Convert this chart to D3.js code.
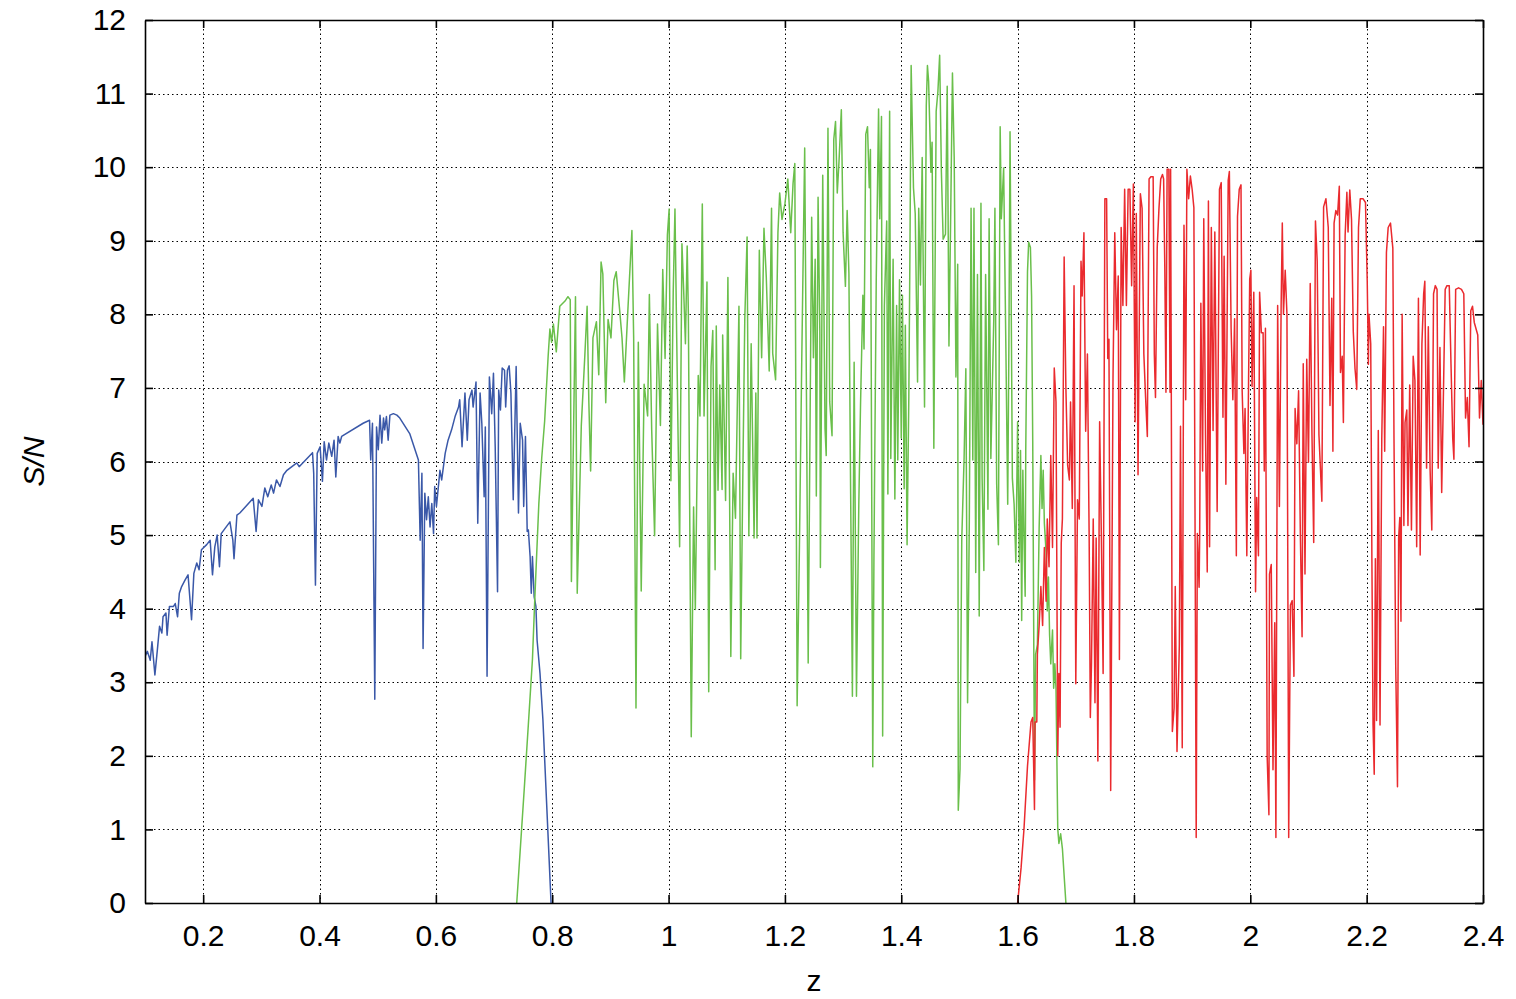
<!DOCTYPE html>
<html>
<head>
<meta charset="utf-8">
<script src="https://cdn.jsdelivr.net/npm/d3@7"></script>
<style>
  html, body { margin: 0; padding: 0; background: #fff; }
  svg { display: block; }
  text { font-family: "Liberation Sans", Arial, Helvetica, sans-serif; fill: #000; }
</style>
</head>
<body>
<svg id="chart" width="1516" height="999"></svg>
<script>
// ---------------- data ----------------
const xTickValues = [0.2, 0.4, 0.6, 0.8, 1.0, 1.2, 1.4, 1.6, 1.8, 2.0, 2.2, 2.4];
const xTickLabels = ["0.2", "0.4", "0.6", "0.8", "1", "1.2", "1.4", "1.6", "1.8", "2", "2.2", "2.4"];
const yTickValues = [0, 1, 2, 3, 4, 5, 6, 7, 8, 9, 10, 11, 12];
const yTickLabels = ["0", "1", "2", "3", "4", "5", "6", "7", "8", "9", "10", "11", "12"];
const xLabel = "z";
const yLabel = "S/N";

// blue series (low z)
const blueZ = [0.100,0.104,0.109,0.112,0.117,0.121,0.125,0.129,0.131,0.136,0.138,0.142,0.149,0.152,0.156,0.159,0.163,0.169,0.174,0.180,0.184,0.189,0.193,0.197,0.206,0.212,0.216,0.220,0.224,0.228,0.231,0.246,0.251,0.253,0.258,0.263,0.286,0.291,0.295,0.301,0.306,0.311,0.317,0.321,0.326,0.332,0.338,0.344,0.361,0.365,0.388,0.390,0.393,0.396,0.401,0.405,0.408,0.412,0.416,0.421,0.425,0.428,0.432,0.435,0.438,0.475,0.486,0.488,0.491,0.495,0.498,0.501,0.504,0.507,0.510,0.512,0.515,0.518,0.521,0.527,0.533,0.538,0.555,0.570,0.573,0.576,0.578,0.581,0.584,0.587,0.590,0.593,0.596,0.598,0.601,0.607,0.610,0.616,0.621,0.627,0.633,0.639,0.641,0.645,0.650,0.654,0.657,0.662,0.664,0.669,0.672,0.676,0.679,0.683,0.685,0.688,0.692,0.696,0.699,0.702,0.706,0.708,0.711,0.714,0.718,0.720,0.723,0.726,0.729,0.733,0.738,0.742,0.745,0.749,0.751,0.754,0.757,0.759,0.762,0.764,0.766,0.769,0.772,0.774,0.779,0.784,0.798];
const blueSN = [3.35,3.42,3.30,3.55,3.10,3.42,3.76,3.67,3.89,3.94,3.64,4.03,4.03,4.07,3.89,4.21,4.30,4.39,4.46,3.85,4.48,4.62,4.53,4.80,4.87,4.93,4.46,4.84,5.00,4.57,5.02,5.18,4.93,4.68,5.27,5.30,5.50,5.05,5.48,5.39,5.64,5.52,5.68,5.57,5.75,5.66,5.82,5.88,5.98,5.93,6.12,5.84,4.32,6.11,6.20,5.73,6.27,6.02,6.25,6.07,6.29,5.79,6.34,6.25,6.34,6.52,6.56,6.02,6.52,2.77,6.47,6.16,6.63,6.25,6.59,6.43,6.61,6.29,6.63,6.65,6.63,6.59,6.38,6.02,4.93,5.84,3.46,5.57,5.21,5.52,5.11,5.43,5.02,5.66,5.39,5.88,5.75,6.11,6.29,6.43,6.61,6.74,6.84,6.20,6.93,6.29,6.84,6.97,6.74,7.08,5.16,6.93,6.52,5.52,6.47,3.08,7.15,6.65,7.20,6.20,4.23,6.97,6.70,7.27,7.24,6.74,7.24,7.30,6.93,5.48,7.29,5.30,6.52,6.29,5.39,6.34,5.05,5.07,4.71,4.21,4.71,4.16,4.03,3.57,3.12,2.49,0.00];

// green series (mid z)
const greenZ = [0.739,0.752,0.759,0.766,0.770,0.777,0.782,0.787,0.793,0.796,0.799,0.802,0.807,0.813,0.822,0.827,0.831,0.833,0.840,0.843,0.850,0.856,0.860,0.863,0.866,0.870,0.876,0.880,0.884,0.887,0.892,0.896,0.901,0.906,0.910,0.916,0.920,0.924,0.930,0.937,0.940,0.944,0.948,0.953,0.958,0.964,0.967,0.971,0.976,0.981,0.986,0.990,0.994,0.998,1.001,1.004,1.008,1.011,1.014,1.019,1.023,1.026,1.029,1.032,1.034,1.039,1.043,1.046,1.051,1.054,1.058,1.061,1.066,1.069,1.073,1.076,1.080,1.082,1.085,1.088,1.092,1.093,1.098,1.102,1.107,1.111,1.115,1.121,1.124,1.128,1.131,1.135,1.138,1.142,1.147,1.150,1.152,1.156,1.160,1.164,1.168,1.173,1.177,1.179,1.184,1.188,1.191,1.195,1.200,1.205,1.210,1.214,1.217,1.221,1.225,1.229,1.234,1.237,1.240,1.246,1.249,1.252,1.254,1.257,1.260,1.261,1.265,1.269,1.271,1.274,1.277,1.281,1.284,1.287,1.290,1.293,1.297,1.300,1.304,1.307,1.310,1.313,1.316,1.319,1.323,1.327,1.330,1.334,1.336,1.339,1.342,1.345,1.347,1.351,1.353,1.357,1.361,1.363,1.366,1.368,1.371,1.375,1.377,1.380,1.382,1.386,1.389,1.392,1.394,1.397,1.400,1.402,1.405,1.407,1.410,1.413,1.415,1.417,1.421,1.424,1.428,1.430,1.433,1.436,1.440,1.443,1.445,1.447,1.451,1.453,1.456,1.460,1.463,1.466,1.469,1.472,1.476,1.479,1.482,1.485,1.488,1.491,1.494,1.497,1.498,1.501,1.504,1.508,1.511,1.514,1.517,1.520,1.523,1.525,1.528,1.531,1.534,1.537,1.539,1.542,1.545,1.549,1.551,1.554,1.559,1.561,1.564,1.567,1.570,1.572,1.576,1.580,1.583,1.585,1.587,1.591,1.594,1.597,1.600,1.603,1.605,1.607,1.609,1.611,1.613,1.614,1.617,1.619,1.622,1.624,1.626,1.629,1.631,1.634,1.637,1.640,1.642,1.644,1.646,1.649,1.651,1.653,1.655,1.657,1.660,1.662,1.664,1.666,1.669,1.671,1.674,1.677,1.683];
const greenSN = [0.00,1.56,2.43,3.31,4.12,5.43,6.05,6.55,7.43,7.80,7.62,7.87,7.49,8.11,8.18,8.24,8.20,4.37,8.24,4.21,6.49,7.43,8.11,6.80,5.87,7.68,7.90,7.18,8.71,8.55,6.80,7.93,7.68,8.46,8.58,8.05,7.68,7.08,8.05,9.14,7.68,2.65,7.62,4.24,7.05,6.62,8.27,6.43,4.99,7.87,6.49,8.61,7.40,9.08,9.43,5.74,8.30,9.43,7.68,4.84,8.96,8.32,7.60,8.93,8.02,2.26,5.38,3.99,7.17,6.62,9.50,6.62,8.44,2.87,7.29,7.78,4.53,7.84,5.61,7.04,5.62,7.72,5.47,8.50,3.35,5.84,5.23,8.11,3.32,6.02,7.93,9.05,4.99,7.60,4.96,6.93,4.96,8.87,7.41,9.17,8.50,7.23,9.44,7.47,7.11,9.11,9.65,9.29,9.50,9.84,9.11,9.78,10.05,2.68,4.87,7.41,10.26,6.93,3.26,9.32,7.41,8.75,5.53,9.59,7.78,4.56,9.89,6.44,6.08,10.53,6.81,6.35,10.38,10.62,9.65,10.08,10.78,9.11,8.38,9.41,8.56,5.56,2.81,7.35,2.81,5.41,6.78,8.26,7.53,10.45,10.55,9.72,10.24,1.85,4.66,8.47,10.79,9.30,10.69,2.27,8.12,9.27,5.56,10.76,6.04,8.75,5.49,8.12,6.02,8.47,6.32,8.26,5.63,7.85,4.87,6.88,8.96,11.38,9.72,9.37,7.08,9.44,8.40,10.13,6.74,10.83,11.38,11.17,9.93,10.34,6.18,10.76,11.03,11.52,9.93,9.02,9.09,11.10,7.57,9.37,11.28,10.13,7.15,8.68,1.26,1.82,4.94,6.04,7.26,2.72,5.21,9.44,6.02,9.44,4.49,8.54,3.90,9.51,5.77,4.52,8.54,5.35,9.30,6.04,7.92,9.44,5.70,4.87,10.55,9.30,9.99,7.43,5.42,7.57,10.48,5.77,5.42,4.63,6.54,4.63,6.15,3.84,5.88,4.96,4.17,6.15,8.58,8.98,8.91,8.25,6.28,1.67,3.38,3.51,5.09,6.08,5.36,5.88,5.16,4.76,3.97,4.43,3.64,3.25,3.71,2.92,3.25,2.92,1.01,0.81,0.94,0.74,0.00];

// red series (high z)
const redZ = [1.600,1.606,1.611,1.617,1.623,1.626,1.629,1.630,1.633,1.634,1.637,1.640,1.643,1.646,1.649,1.651,1.654,1.657,1.660,1.663,1.666,1.669,1.671,1.673,1.675,1.677,1.680,1.683,1.686,1.689,1.691,1.694,1.697,1.700,1.703,1.706,1.709,1.711,1.714,1.717,1.720,1.723,1.725,1.727,1.730,1.733,1.735,1.738,1.741,1.744,1.747,1.750,1.753,1.755,1.757,1.760,1.764,1.767,1.770,1.773,1.775,1.778,1.781,1.784,1.787,1.790,1.793,1.796,1.799,1.802,1.804,1.807,1.811,1.814,1.817,1.820,1.823,1.826,1.829,1.833,1.835,1.837,1.840,1.843,1.846,1.849,1.851,1.853,1.855,1.857,1.860,1.862,1.863,1.866,1.869,1.871,1.874,1.878,1.880,1.883,1.886,1.889,1.891,1.894,1.897,1.900,1.903,1.907,1.909,1.912,1.913,1.915,1.918,1.920,1.923,1.926,1.928,1.930,1.933,1.936,1.939,1.943,1.947,1.950,1.953,1.955,1.958,1.962,1.964,1.967,1.970,1.973,1.976,1.978,1.981,1.984,1.986,1.989,1.991,1.994,1.997,1.999,2.001,2.003,2.006,2.009,2.011,2.014,2.016,2.019,2.022,2.024,2.026,2.029,2.032,2.033,2.036,2.039,2.042,2.044,2.047,2.050,2.053,2.055,2.057,2.060,2.063,2.066,2.069,2.072,2.075,2.077,2.080,2.083,2.086,2.089,2.091,2.094,2.097,2.100,2.103,2.106,2.109,2.112,2.115,2.118,2.123,2.126,2.130,2.134,2.137,2.140,2.142,2.144,2.147,2.150,2.153,2.155,2.158,2.160,2.163,2.166,2.168,2.171,2.174,2.177,2.180,2.183,2.186,2.189,2.194,2.198,2.201,2.203,2.204,2.207,2.209,2.211,2.213,2.215,2.217,2.220,2.223,2.226,2.229,2.231,2.234,2.237,2.241,2.245,2.247,2.250,2.253,2.255,2.257,2.259,2.261,2.264,2.266,2.269,2.271,2.274,2.277,2.280,2.283,2.286,2.289,2.292,2.295,2.298,2.300,2.303,2.306,2.309,2.312,2.315,2.318,2.321,2.323,2.326,2.329,2.332,2.335,2.338,2.342,2.345,2.348,2.350,2.353,2.358,2.363,2.367,2.370,2.373,2.376,2.379,2.382,2.385,2.391,2.394,2.397,2.400];
const redSN = [0.00,0.48,1.01,1.86,2.46,2.52,1.27,2.46,2.46,3.38,3.77,4.30,3.77,4.83,4.10,5.22,4.57,6.08,4.83,7.27,6.81,2.00,3.12,2.39,4.89,5.22,8.78,7.00,5.95,5.75,6.81,5.36,8.39,2.98,5.48,5.22,8.72,8.25,9.11,6.41,7.46,4.96,2.52,3.25,5.22,2.72,4.96,1.93,6.54,4.96,3.12,9.57,9.57,7.40,7.66,1.53,7.13,9.11,7.79,8.52,3.31,9.18,8.12,9.70,8.12,9.70,9.70,8.39,9.77,6.54,9.37,5.82,9.64,9.44,7.46,6.87,6.34,9.84,9.87,9.87,7.46,6.87,8.91,9.44,9.84,9.90,9.84,8.65,6.94,9.97,9.97,6.94,9.97,2.33,2.65,4.30,2.06,3.51,6.48,2.11,9.21,6.84,9.97,9.57,9.88,9.70,9.45,0.89,5.02,4.29,5.02,8.15,5.87,9.30,6.36,4.50,9.54,4.84,9.18,6.42,9.12,5.32,9.70,9.79,6.60,8.79,5.69,9.82,9.94,7.81,6.84,7.94,4.72,9.33,9.70,9.76,6.96,6.11,6.72,4.72,7.09,8.48,8.60,7.02,8.30,4.23,5.51,4.72,8.30,7.75,7.75,5.87,7.81,1.99,1.20,4.47,4.60,1.81,3.81,0.89,8.12,5.39,8.12,9.24,8.00,8.60,8.00,0.89,4.05,4.11,3.08,6.72,6.24,6.96,5.02,3.62,7.33,4.47,7.39,5.99,8.42,6.36,4.90,9.27,8.72,6.36,5.46,9.46,9.57,9.18,6.76,8.22,6.14,9.24,9.41,9.35,9.74,7.21,7.43,6.53,9.07,9.66,9.12,9.69,9.29,7.77,7.26,6.98,9.18,9.57,9.57,9.52,8.45,7.32,8.00,7.60,4.68,2.42,1.75,4.68,2.48,6.42,2.42,6.31,7.83,6.14,8.84,9.18,9.24,8.90,6.31,3.21,1.58,4.96,5.24,3.83,8.00,5.13,6.53,6.70,5.13,7.04,5.07,7.43,7.10,4.84,8.22,4.73,7.60,8.28,8.45,5.91,7.83,5.91,5.07,8.28,8.39,8.34,5.91,7.55,5.58,6.93,8.34,8.39,8.39,7.32,6.31,6.03,8.34,8.36,8.34,8.28,6.59,6.87,6.20,8.05,8.11,7.89,7.72,6.59,7.10,6.50];

const seriesList = [
  { name: "blue",  z: blueZ,  sn: blueSN,  color: "#3a58a8" },
  { name: "green", z: greenZ, sn: greenSN, color: "#6abf4b" },
  { name: "red",   z: redZ,   sn: redSN,   color: "#ea2a2e" }
];

// ---------------- layout ----------------
const W = 1516, H = 999;
const margin = { left: 145, right: W - 1483, top: 20, bottom: H - 903 };
const svg = d3.select("#chart");
const x = d3.scaleLinear().domain([0.1, 2.4]).range([margin.left, W - margin.right]);
const y = d3.scaleLinear().domain([0, 12]).range([H - margin.bottom, margin.top]);
const fontSize = 30;

// grid
const grid = svg.append("g").attr("class", "grid")
  .attr("stroke", "#000").attr("stroke-width", 1).attr("stroke-dasharray", "1.5,3");
grid.selectAll("line.v").data(xTickValues.filter(v => v < 2.39)).enter().append("line")
  .attr("x1", d => Math.round(x(d)) + 0.5).attr("x2", d => Math.round(x(d)) + 0.5)
  .attr("y1", y(12)).attr("y2", y(0));
grid.selectAll("line.h").data(yTickValues.filter(v => v > 0 && v < 12)).enter().append("line")
  .attr("y1", d => Math.round(y(d)) + 0.5).attr("y2", d => Math.round(y(d)) + 0.5)
  .attr("x1", x(0.1)).attr("x2", x(2.4));

// data lines
svg.append("clipPath").attr("id", "clip").append("rect")
  .attr("x", x(0.1)).attr("y", y(12)).attr("width", x(2.4) - x(0.1)).attr("height", y(0) - y(12));
const line = d3.line().x(d => x(d[0])).y(d => y(d[1]));
const plot = svg.append("g").attr("clip-path", "url(#clip)");
seriesList.forEach(s => {
  const pts = s.z.map((zv, i) => [zv, s.sn[i]]);
  plot.append("path").datum(pts)
    .attr("fill", "none").attr("stroke", s.color).attr("stroke-width", 1.5)
    .attr("stroke-linejoin", "round").attr("d", line);
});

// axes
const fmtX = d => xTickLabels[xTickValues.findIndex(v => Math.abs(v - d) < 1e-9)];
const fmtY = d => yTickLabels[yTickValues.indexOf(d)];
const axB = svg.append("g").attr("transform", `translate(0,${y(0)})`)
  .call(d3.axisBottom(x).tickValues(xTickValues).tickFormat(fmtX).tickSizeInner(-8).tickSizeOuter(0).tickPadding(22));
const axL = svg.append("g").attr("transform", `translate(${x(0.1)},0)`)
  .call(d3.axisLeft(y).tickValues(yTickValues).tickFormat(fmtY).tickSizeInner(-8).tickSizeOuter(0).tickPadding(19));
const axT = svg.append("g").attr("transform", `translate(0,${y(12)})`)
  .call(d3.axisTop(x).tickValues(xTickValues).tickFormat("").tickSizeInner(-8).tickSizeOuter(0));
const axR = svg.append("g").attr("transform", `translate(${x(2.4)},0)`)
  .call(d3.axisRight(y).tickValues(yTickValues).tickFormat("").tickSizeInner(-8).tickSizeOuter(0));
[axB, axL, axT, axR].forEach(a => {
  a.select(".domain").attr("stroke", "#000").attr("stroke-width", 1.6);
  a.selectAll(".tick line").attr("stroke", "#000").attr("stroke-width", 1.6);
  a.selectAll(".tick text").attr("font-size", fontSize).attr("font-family", "Liberation Sans, Arial, sans-serif").attr("fill", "#000");
});

// axis titles
svg.append("text").attr("x", (x(0.1) + x(2.4)) / 2).attr("y", 991)
  .attr("text-anchor", "middle").attr("font-size", fontSize).text(xLabel);
svg.append("text").attr("transform", `translate(44,${(y(0) + y(12)) / 2}) rotate(-90)`)
  .attr("text-anchor", "middle").attr("font-size", fontSize).attr("font-style", "italic").text(yLabel);
</script>
</body>
</html>
